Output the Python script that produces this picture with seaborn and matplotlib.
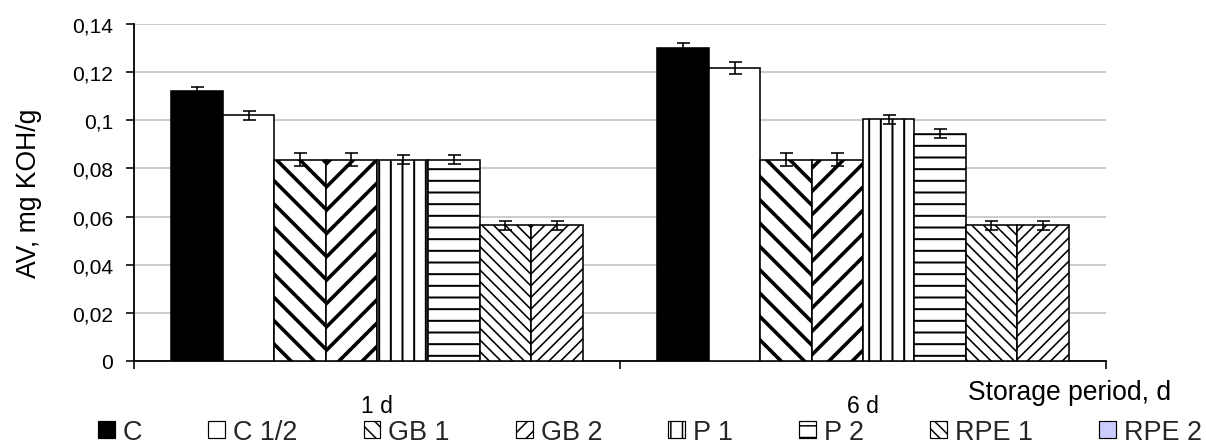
import matplotlib
matplotlib.use("Agg")
import matplotlib.pyplot as plt
from matplotlib.patches import Patch
from matplotlib.ticker import FuncFormatter, MultipleLocator
import seaborn as sns
import pandas as pd

# ---- data ----
periods = ["1 d", "6 d"]
variants = ["C", "C 1/2", "GB 1", "GB 2", "P 1", "P 2", "RPE 1", "RPE 2"]
values_1d = [0.112, 0.102, 0.0837, 0.0837, 0.0837, 0.0837, 0.0563, 0.0563]
values_6d = [0.1301, 0.1217, 0.0837, 0.0837, 0.1005, 0.0944, 0.0563, 0.0563]
errors_1d = [0.0020, 0.0018, 0.0026, 0.0026, 0.0019, 0.0017, 0.0017, 0.0017]
errors_6d = [0.0019, 0.0025, 0.0026, 0.0026, 0.0019, 0.0018, 0.0017, 0.0017]
y_label = "AV, mg KOH/g"
x_label = "Storage period, d"

rows = []
for p, vals, errs in [(periods[0], values_1d, errors_1d), (periods[1], values_6d, errors_6d)]:
    for v, val, e in zip(variants, vals, errs):
        rows.append({"period": p, "variant": v, "value": val, "err": e})
df = pd.DataFrame(rows)

DPI = 140
W, H = 1206, 446


def pt(px):
    return px * 72.0 / DPI


# ---- styles ----
faces = {"C": "black", "C 1/2": "white", "GB 1": "white", "GB 2": "white",
         "P 1": "white", "P 2": "white", "RPE 1": "white", "RPE 2": "white"}
hatches = {"C": "", "C 1/2": "", "GB 1": "\\\\", "GB 2": "//", "P 1": "||",
           "P 2": "--", "RPE 1": "\\\\\\\\", "RPE 2": "////"}
hatch_lw_px = {"C": 1, "C 1/2": 1, "GB 1": 3.6, "GB 2": 3.6, "P 1": 2.0,
               "P 2": 2.0, "RPE 1": 1.6, "RPE 2": 1.6}
legend_faces = dict(faces)
legend_faces["RPE 2"] = "#ccccff"
legend_hatches = dict(hatches)
legend_hatches["RPE 2"] = ""
legend_hatches["GB 1"] = "\\\\\\"
legend_hatches["GB 2"] = "///"

sns.set_theme(style="white")
plt.rcParams["font.family"] = ["Liberation Sans", "DejaVu Sans"]
plt.rcParams["hatch.color"] = "black"

fig = plt.figure(figsize=(W / DPI, H / DPI), dpi=DPI)
ax = fig.add_axes([134 / W, 1 - 362 / H, (1106 - 134) / W, (362 - 25) / H])

sns.barplot(data=df, x="period", y="value", hue="variant", order=periods,
            hue_order=variants, width=0.846, gap=0, errorbar=None,
            palette=["white"] * len(variants), edgecolor="black", linewidth=pt(1.6),
            ax=ax, legend=False, zorder=3)

errs_by_variant = {v: (errors_1d[i], errors_6d[i]) for i, v in enumerate(variants)}
for v, cont in zip(variants, ax.containers):
    for j, bar in enumerate(cont):
        bar.set_facecolor(faces[v])
        bar.set_hatch(hatches[v])
        bar.set_edgecolor("black")
        if hasattr(bar, "set_hatch_linewidth"):
            bar.set_hatch_linewidth(pt(hatch_lw_px[v]))
        xc = bar.get_x() + bar.get_width() / 2
        ax.errorbar(xc, bar.get_height(), yerr=errs_by_variant[v][j], fmt="none",
                    ecolor="black", elinewidth=pt(1.6), capsize=pt(6.5),
                    capthick=pt(1.6), zorder=4)

ax.set_ylim(0, 0.14)
ax.set_xlim(-0.5, 1.5)
ax.yaxis.set_major_locator(MultipleLocator(0.02))
ax.yaxis.set_major_formatter(FuncFormatter(lambda v, p: ("%g" % round(v, 2)).replace(".", ",")))
ax.grid(axis="y", color="#c0c0c0", linewidth=pt(1.6), zorder=0)
ax.set_axisbelow(True)
for s in ["top", "right"]:
    ax.spines[s].set_visible(False)
for s in ["left", "bottom"]:
    ax.spines[s].set_color("black")
    ax.spines[s].set_linewidth(pt(1.8))

ax.tick_params(axis="y", direction="out", length=pt(8), width=pt(1.6), color="black",
               labelsize=pt(21), labelcolor="black", left=True, pad=pt(13))
ax.set_xticks([0, 1])
ax.set_xticklabels(periods)
ax.set_xticks([-0.5, 0.5, 1.5], minor=True)
ax.tick_params(axis="x", which="major", length=0, labelsize=pt(23), labelcolor="black",
               pad=pt(33))
ax.tick_params(axis="x", which="minor", direction="out", length=pt(8), width=pt(1.6),
               color="black", bottom=True)

ax.set_ylabel(y_label, fontsize=pt(26.5), color="black", labelpad=pt(30))
ax.set_xlabel("")
fig.text(1171 / W, 1 - 393 / H, x_label, ha="right", va="center",
         fontsize=pt(26.5), color="black")

handles = []
for v in variants:
    h = Patch(facecolor=legend_faces[v], edgecolor="black", hatch=legend_hatches[v],
              linewidth=pt(1.2))
    handles.append(h)
leg = fig.legend(handles, variants, loc="lower left", ncol=8, frameon=False,
                 bbox_to_anchor=(98 / W, 0.0, 1104 / W, 0.06), mode="expand",
                 fontsize=pt(27), handlelength=0.62, handleheight=0.62,
                 handletextpad=0.3, borderaxespad=0, borderpad=0)
for h in leg.legend_handles:
    if hasattr(h, "set_hatch_linewidth"):
        h.set_hatch_linewidth(pt(1.5))

fig.savefig("out.png", dpi=DPI)
